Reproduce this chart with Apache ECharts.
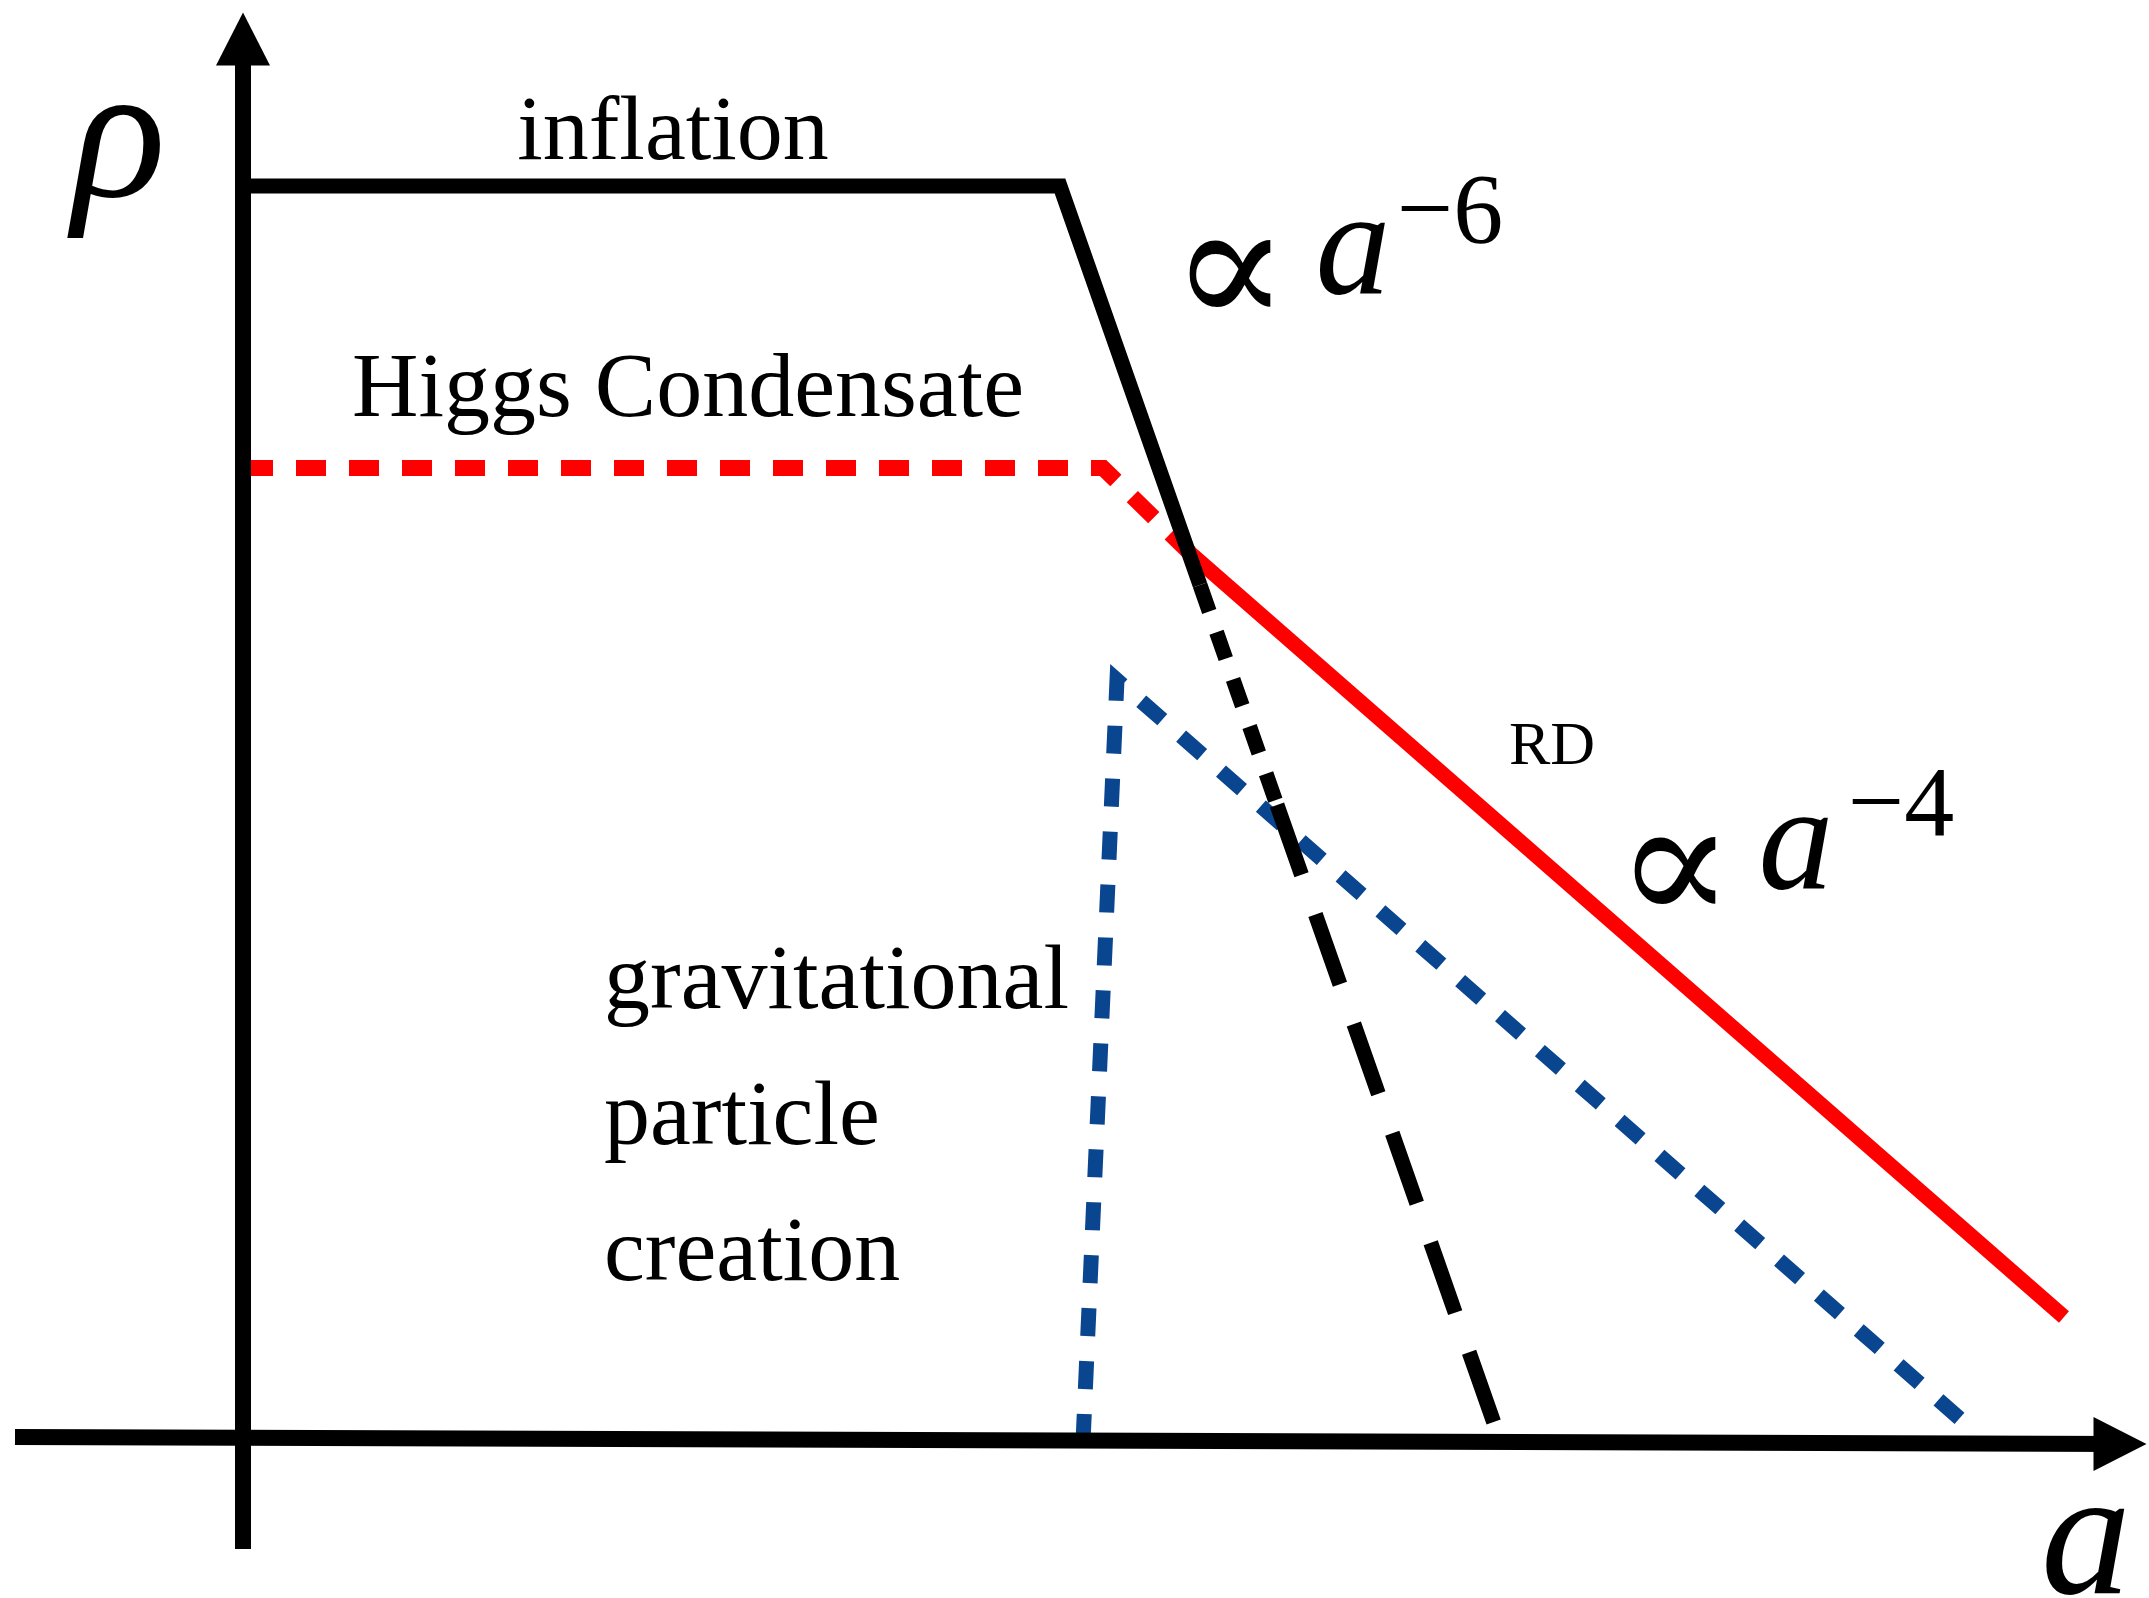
<!DOCTYPE html>
<html>
<head>
<meta charset="utf-8">
<script src="https://cdn.jsdelivr.net/npm/echarts@6/dist/echarts.min.js"></script>
<style>
  html, body { margin: 0; padding: 0; background: #fff; }
  #chart { width: 2149px; height: 1598px; }
</style>
</head>
<body>
<div id="chart"></div>
<script>
// 示意图数据：横轴 a，纵轴 rho（任意单位，原点在两轴交点）
const rhoAxis = [[0, -1.09], [0, 14.01]];
const aAxis = [[-2.28, 0.03], [18.77, -0.04]];
const inflationLine = [[0, 12.54], [8.17, 12.54], [9.57, 8.55]];
const kinationShort = [[9.57, 8.55], [10.34, 6.35]];
const kinationLong = [[10.34, 6.35], [12.52, 0.14]];
const higgsPlateau = [[0, 9.72], [8.6, 9.72], [9.47, 8.87]];
const radiationLine = [[9.47, 8.87], [18.21, 1.23]];
const gravCreation = [[8.40, -0.02], [8.74, 7.60], [17.23, 0.16]];

// 标注文字
const labelTexts = ["inflation", "Higgs Condensate", "gravitational\nparticle\ncreation", "RD"];
const propTo = "\u221D";
const exponents = ["\u22126", "\u22124"];

const serif = "'Liberation Serif', 'Times New Roman', 'DejaVu Serif', serif";

function lineSeries(data, color, width, type, z) {
  return {
    type: "line",
    data,
    symbol: "none",
    silent: true,
    z,
    lineStyle: { color, width, type, cap: "butt", join: "miter" },
  };
}

function arrowAxis(points, rotate) {
  return {
    type: "line",
    silent: true,
    z: 10,
    showAllSymbol: true,
    symbol: "none",
    data: [
      { value: points[0], symbol: "none" },
      { value: points[1], symbol: "triangle", symbolSize: [54, 53], symbolRotate: rotate },
    ],
    itemStyle: { color: "#000" },
    lineStyle: { color: "#000", width: 16, cap: "butt" },
  };
}

function textItem(value, text, fontSize, extra) {
  return {
    value,
    label: Object.assign(
      {
        show: true,
        position: "inside",
        formatter: text,
        color: "#000",
        opacity: 1,
        fontFamily: serif,
        fontSize,
      },
      extra || {}
    ),
  };
}

const propStyle = { fontFamily: "'DejaVu Serif', serif" };

const annotations = [
  textItem([4.30, 13.05], labelTexts[0], 92),
  textItem([4.45, 10.48], labelTexts[1], 92),
  textItem([3.61, 3.20], labelTexts[2], 92, { align: "left", lineHeight: 136 }),
  textItem([13.09, 6.92], labelTexts[3], 62),
  textItem([9.87, 11.59], propTo, 175, propStyle),
  textItem([11.10, 11.86], "a", 150, { fontStyle: "italic" }),
  textItem([12.07, 12.24], exponents[0], 100),
  textItem([14.32, 5.62], propTo, 175, propStyle),
  textItem([15.53, 5.91], "a", 150, { fontStyle: "italic" }),
  textItem([16.58, 6.31], exponents[1], 100),
  textItem([-1.24, 12.95], "\u03C1", 195, { fontStyle: "italic" }),
  textItem([18.43, -1.06], "a", 180, { fontStyle: "italic" }),
];

const option = {
  animation: false,
  backgroundColor: "#fff",
  grid: { left: 13, right: 6, top: 10, bottom: 8 },
  xAxis: { type: "value", min: -2.3, max: 19.0, show: false },
  yAxis: { type: "value", min: -1.5, max: 14.3, show: false },
  series: [
    lineSeries(gravCreation, "#0a4590", 15, [28, 25], 2),
    lineSeries(higgsPlateau, "#ff0000", 16, [30, 23], 3),
    lineSeries(radiationLine, "#ff0000", 15, "solid", 4),
    lineSeries(kinationShort, "#000", 15, [28, 22], 5),
    lineSeries(kinationLong, "#000", 15, [74, 42], 5),
    lineSeries(inflationLine, "#000", 15, "solid", 6),
    arrowAxis(rhoAxis, 0),
    arrowAxis(aAxis, -90),
    {
      type: "scatter",
      symbolSize: 0,
      silent: true,
      z: 20,
      itemStyle: { opacity: 1 },
      data: annotations,
    },
  ],
};

const chart = echarts.init(document.getElementById("chart"));
chart.setOption(option);
</script>
</body>
</html>
